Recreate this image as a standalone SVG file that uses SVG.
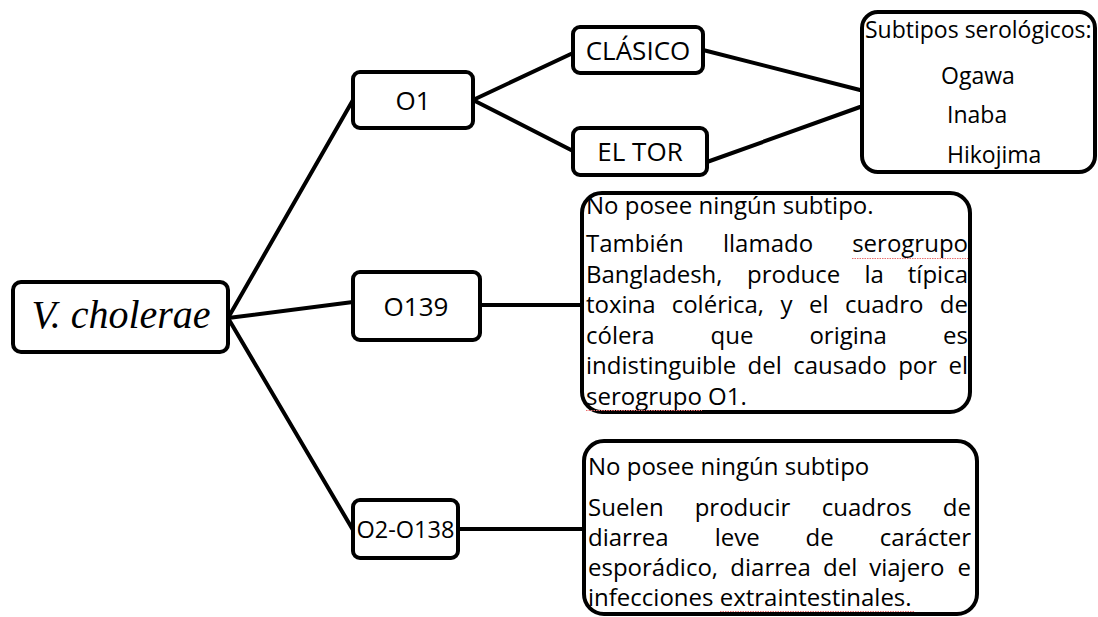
<svg xmlns="http://www.w3.org/2000/svg" width="1098" height="617" viewBox="0 0 1098 617">
<style>
.box{fill:#fff;stroke:#000;stroke-width:4}
.lbl{font-family:"Open Sans","Liberation Sans",sans-serif;font-size:26px;fill:#000;text-anchor:middle}
.sm{font-size:23.5px}
.t{font-family:"Open Sans","Liberation Sans",sans-serif;font-size:24px;fill:#000}
.s{font-size:23px}
.e{text-anchor:end}
.conn{stroke:#000;stroke-width:4;fill:none;stroke-linecap:round}
.sq{stroke:#e87070;stroke-width:1.2;stroke-dasharray:1.5 1;fill:none}
</style>
<rect width="1098" height="617" fill="#fff"/>
<g id="connectors">
<line class="conn" x1="228" y1="318" x2="353" y2="100"/>
<line class="conn" x1="228" y1="318" x2="353" y2="302"/>
<line class="conn" x1="228" y1="318" x2="353" y2="530"/>
<line class="conn" x1="473" y1="100" x2="573" y2="53"/>
<line class="conn" x1="473" y1="100" x2="573" y2="151"/>
<line class="conn" x1="703" y1="50" x2="860" y2="90"/>
<line class="conn" x1="707" y1="162" x2="860" y2="107"/>
<line class="conn" x1="480" y1="305" x2="583" y2="305"/>
<line class="conn" x1="458" y1="529" x2="584" y2="529"/>
</g>
<g id="vcholerae">
<rect class="box" x="13" y="282" width="215" height="70" rx="8"/>
<text x="121" y="328" font-family="Liberation Serif,serif" font-style="italic" font-size="40" text-anchor="middle">V. cholerae</text>
</g>
<g id="o1">
<rect class="box" x="353" y="72" width="120" height="56" rx="7"/>
<text class="lbl" x="413" y="110">O1</text>
</g>
<g id="o139">
<rect class="box" x="353" y="272" width="127" height="68" rx="7"/>
<text class="lbl" x="416" y="316">O139</text>
</g>
<g id="o2o138">
<rect class="box" x="353" y="500" width="105" height="58" rx="7"/>
<text class="lbl sm" x="405.5" y="538">O2-O138</text>
</g>
<g id="clasico">
<rect class="box" x="573" y="27" width="130" height="46" rx="7"/>
<text class="lbl" x="638" y="60">CLÁSICO</text>
</g>
<g id="eltor">
<rect class="box" x="573" y="128" width="134" height="47" rx="7"/>
<text class="lbl" x="640" y="161">EL TOR</text>
</g>
<g id="subtipos">
<rect class="box" x="862" y="12" width="233" height="160" rx="16"/>
<text class="t s" x="865" y="38">Subtipos serológicos:</text>
<text class="t s" x="941" y="84">Ogawa</text>
<text class="t s" x="947" y="123">Inaba</text>
<text class="t s" x="947" y="163">Hikojima</text>
</g>
<g id="o139desc">
<rect class="box" x="582" y="193" width="388" height="219" rx="20"/>
<text class="t" x="586" y="214">No posee ningún subtipo.</text>
<text class="t" x="586" y="252">También</text>
<text class="t" x="723" y="252">llamado</text>
<text class="t e" x="968" y="252">serogrupo</text>
<text class="t" x="586" y="282.5">Bangladesh,</text>
<text class="t" x="747" y="282.5">produce</text>
<text class="t" x="864.5" y="282.5">la</text>
<text class="t e" x="968" y="282.5">típica</text>
<text class="t" x="586" y="313">toxina</text>
<text class="t" x="671.7" y="313">colérica,</text>
<text class="t" x="780.6" y="313">y</text>
<text class="t" x="809" y="313">el</text>
<text class="t" x="845" y="313">cuadro</text>
<text class="t e" x="968" y="313">de</text>
<text class="t" x="586" y="343.5">cólera</text>
<text class="t" x="710.6" y="343.5">que</text>
<text class="t" x="809.4" y="343.5">origina</text>
<text class="t e" x="968" y="343.5">es</text>
<text class="t" x="586" y="374">indistinguible</text>
<text class="t" x="747.6" y="374">del</text>
<text class="t" x="793.2" y="374">causado</text>
<text class="t" x="898.2" y="374">por</text>
<text class="t e" x="968" y="374">el</text>
<text class="t" x="586" y="404.5">serogrupo O1.</text>
<line class="sq" x1="852" y1="258.5" x2="968" y2="258.5"/>
<line class="sq" x1="586" y1="410.5" x2="702" y2="410.5"/>
</g>
<g id="o2desc">
<rect class="box" x="584" y="441" width="393" height="173" rx="20"/>
<text class="t" x="588" y="475">No posee ningún subtipo</text>
<text class="t" x="588" y="516">Suelen</text>
<text class="t" x="694.7" y="516">producir</text>
<text class="t" x="821.7" y="516">cuadros</text>
<text class="t e" x="971" y="516">de</text>
<text class="t" x="588" y="546">diarrea</text>
<text class="t" x="714.7" y="546">leve</text>
<text class="t" x="805.6" y="546">de</text>
<text class="t e" x="971" y="546">carácter</text>
<text class="t" x="588" y="576">esporádico,</text>
<text class="t" x="730.3" y="576">diarrea</text>
<text class="t" x="823" y="576">del</text>
<text class="t" x="869.2" y="576">viajero</text>
<text class="t e" x="971" y="576">e</text>
<text class="t" x="588" y="606">infecciones extraintestinales.</text>
<line class="sq" x1="720" y1="611.5" x2="914" y2="611.5"/>
</g>
</svg>
